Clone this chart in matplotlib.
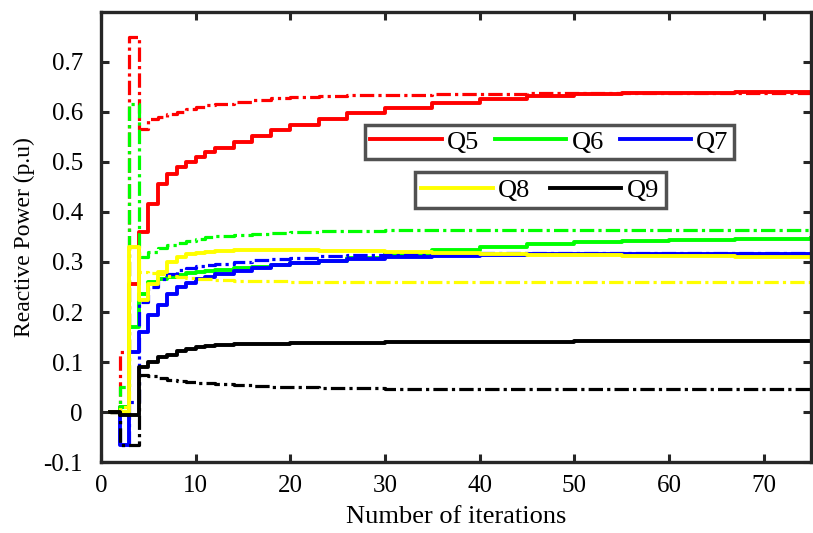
import matplotlib
matplotlib.use("Agg")
import matplotlib.pyplot as plt

plt.rcParams['font.family'] = ['Liberation Serif', 'DejaVu Serif']

iters = [1, 2, 3, 4, 5, 6, 7, 8, 9, 10, 11, 12, 14, 16, 18, 20, 23, 26, 30, 35, 40, 45, 50, 55, 60, 67, 75]

Q5_solid = [0, 0.01, 0.255, 0.36, 0.415, 0.455, 0.475, 0.49, 0.50, 0.51, 0.52, 0.527, 0.54, 0.552, 0.563, 0.573, 0.586, 0.597, 0.608, 0.618, 0.626, 0.631, 0.635, 0.637, 0.638, 0.639, 0.639]
Q5_dash = [0, 0.12, 0.75, 0.565, 0.585, 0.59, 0.595, 0.60, 0.605, 0.61, 0.613, 0.616, 0.62, 0.624, 0.627, 0.629, 0.631, 0.633, 0.634, 0.635, 0.636, 0.637, 0.637, 0.638, 0.638, 0.638, 0.638]
Q6_solid = [0, 0.01, 0.17, 0.235, 0.26, 0.265, 0.27, 0.274, 0.277, 0.28, 0.282, 0.284, 0.287, 0.29, 0.293, 0.297, 0.302, 0.308, 0.315, 0.323, 0.33, 0.335, 0.339, 0.342, 0.344, 0.346, 0.348]
Q6_dash = [0, 0.05, 0.615, 0.31, 0.32, 0.327, 0.333, 0.338, 0.342, 0.346, 0.349, 0.351, 0.354, 0.356, 0.358, 0.36, 0.361, 0.362, 0.363, 0.363, 0.364, 0.364, 0.364, 0.364, 0.364, 0.364, 0.364]
Q7_solid = [0, -0.065, 0.12, 0.16, 0.195, 0.215, 0.235, 0.25, 0.258, 0.265, 0.27, 0.275, 0.282, 0.288, 0.293, 0.297, 0.302, 0.306, 0.309, 0.312, 0.314, 0.315, 0.315, 0.316, 0.316, 0.316, 0.316]
Q7_dash = [0, -0.065, 0.02, 0.22, 0.25, 0.265, 0.275, 0.283, 0.288, 0.291, 0.294, 0.296, 0.30, 0.303, 0.306, 0.308, 0.311, 0.313, 0.315, 0.316, 0.317, 0.317, 0.318, 0.318, 0.318, 0.318, 0.318]
Q8_solid = [0, 0.0, 0.33, 0.225, 0.255, 0.28, 0.30, 0.31, 0.315, 0.318, 0.32, 0.322, 0.323, 0.323, 0.323, 0.323, 0.322, 0.321, 0.319, 0.317, 0.315, 0.314, 0.313, 0.312, 0.311, 0.31, 0.31]
Q8_dash = [0, 0.01, 0.33, 0.28, 0.278, 0.275, 0.272, 0.27, 0.268, 0.266, 0.265, 0.264, 0.262, 0.261, 0.261, 0.26, 0.26, 0.26, 0.259, 0.259, 0.259, 0.259, 0.259, 0.259, 0.259, 0.259, 0.259]
Q9_solid = [0, -0.005, -0.005, 0.09, 0.10, 0.11, 0.115, 0.122, 0.127, 0.13, 0.132, 0.134, 0.136, 0.137, 0.137, 0.138, 0.139, 0.139, 0.14, 0.14, 0.141, 0.141, 0.142, 0.142, 0.142, 0.142, 0.142]
Q9_dash = [0, -0.065, -0.065, 0.075, 0.072, 0.068, 0.065, 0.063, 0.061, 0.059, 0.058, 0.056, 0.054, 0.052, 0.051, 0.05, 0.049, 0.048, 0.047, 0.047, 0.046, 0.046, 0.046, 0.046, 0.046, 0.046, 0.046]

labels = ['Q5', 'Q6', 'Q7', 'Q8', 'Q9']
colors = ['#ff0000', '#00ff00', '#0000ff', '#ffff00', '#000000']
solids = [Q5_solid, Q6_solid, Q7_solid, Q8_solid, Q9_solid]
dashes = [Q5_dash, Q6_dash, Q7_dash, Q8_dash, Q9_dash]

fig = plt.figure(figsize=(8.13, 5.33), dpi=100)
ax = fig.add_axes([0.1242, 0.1332, 0.8733, 0.8443])

handles = []
for lab, c, s, d in zip(labels, colors, solids, dashes):
    h, = ax.step(iters, s, where='post', color=c, lw=2.8, label=lab)
    ax.step(iters, d, where='post', color=c, lw=2.3, linestyle=(0, (4.5, 1.3, 1.0, 1.3)))
    handles.append(h)

ax.set_xlim(0, 75)
ax.set_ylim(-0.1, 0.8)
ax.set_xticks([0, 10, 20, 30, 40, 50, 60, 70])
ax.set_yticks([-0.1, 0, 0.1, 0.2, 0.3, 0.4, 0.5, 0.6, 0.7])
ax.set_yticklabels(['-0.1', '0', '0.1', '0.2', '0.3', '0.4', '0.5', '0.6', '0.7'])
ax.tick_params(direction='in', top=True, right=True, length=6, width=2.2,
               labelsize=18, color='#262626')
ax.tick_params(axis='x', pad=9)
ax.tick_params(axis='y', pad=13)
for sp in ax.spines.values():
    sp.set_linewidth(2.4)
    sp.set_color('#262626')

ax.set_xlabel('Number of iterations', fontsize=19, labelpad=7)
ax.set_ylabel('Reactive Power (p.u)', fontsize=17, labelpad=6)

leg1 = ax.legend(handles[:3], labels[:3], ncol=3, loc='upper left',
                 bbox_to_anchor=(0.372, 0.749), fontsize=19, handlelength=2.7,
                 columnspacing=0.6, handletextpad=0.2, fancybox=False,
                 borderpad=0.2, borderaxespad=0)
leg1.get_frame().set_edgecolor('#262626')
leg1.get_frame().set_linewidth(2.5)
ax.add_artist(leg1)
leg2 = ax.legend(handles[3:], labels[3:], ncol=2, loc='upper left',
                 bbox_to_anchor=(0.442, 0.645), fontsize=19, handlelength=2.7,
                 columnspacing=0.75, handletextpad=0.2, fancybox=False,
                 borderpad=0.25, borderaxespad=0)
leg2.get_frame().set_edgecolor('#262626')
leg2.get_frame().set_linewidth(2.5)

fig.savefig('out.png', dpi=100)
